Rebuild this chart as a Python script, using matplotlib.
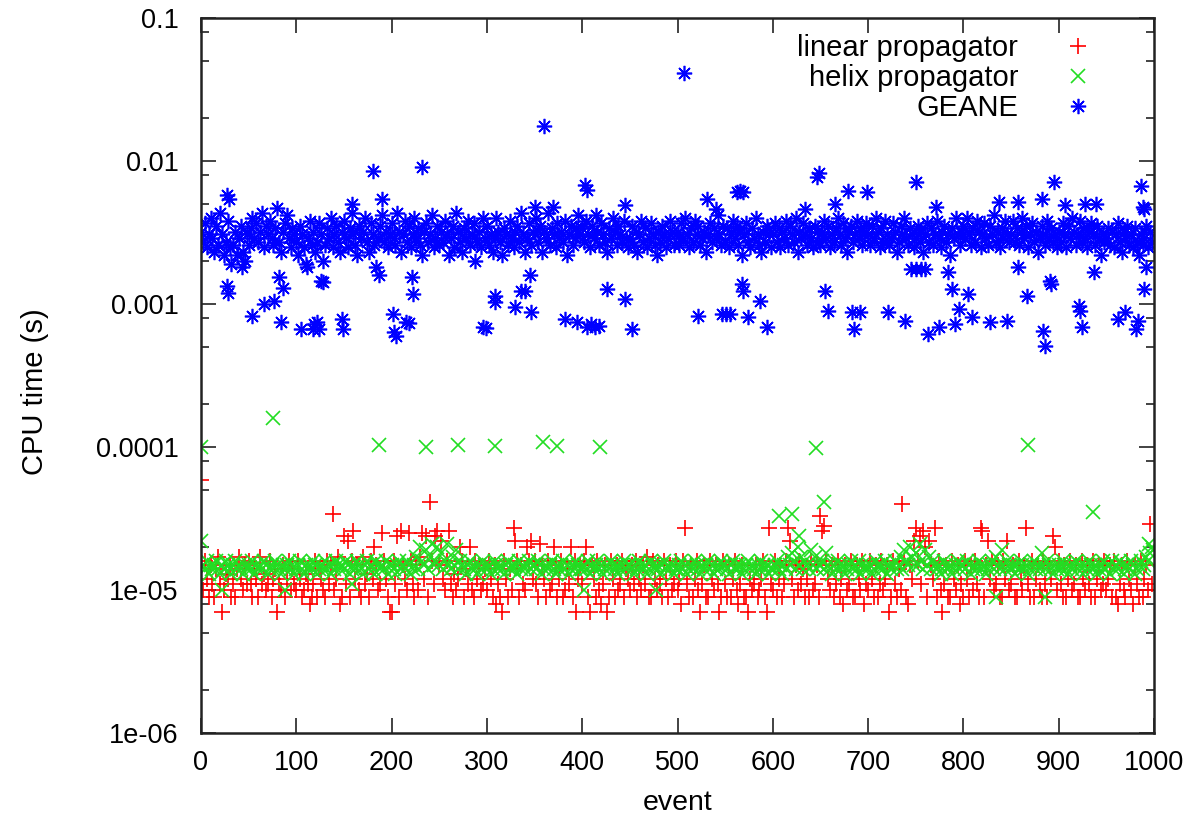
import numpy as np
import matplotlib
matplotlib.use("Agg")
import matplotlib.pyplot as plt
from matplotlib.ticker import FixedLocator, FixedFormatter, NullFormatter

plt.rcParams["font.family"] = ["Liberation Sans", "DejaVu Sans"]

# --- data -------------------------------------------------------------
# bulk of the measurements, one value every second event (0, 2, 4, ...)
# linear propagator, microseconds
linear_us = [
    11, 10, 16, 12, 9, 15, 11, 9, 14, 17, 11, 7, 10, 13, 12, 15, 9, 11, 9, 14, 17, 12, 10, 15, 11,
    16, 11, 9, 14, 12, 9, 17, 11, 13, 10, 11, 16, 9, 12, 14, 7, 11, 10, 15, 9, 12, 16, 10, 14, 11,
    10, 16, 12, 9, 10, 13, 11, 8, 9, 11, 16, 9, 14, 12, 10, 9, 16, 11, 15, 34, 10, 12, 17, 8, 9,
    24, 11, 22, 9, 16, 26, 12, 15, 10, 9, 17, 11, 13, 9, 16, 12, 20, 15, 10, 11, 25, 16, 12, 9, 7,
    7, 16, 11, 24, 9, 26, 15, 12, 10, 25, 16, 11, 9, 15, 10, 17, 25, 12, 24, 9, 41, 16, 11, 24, 26,
    15, 22, 12, 10, 16, 26, 11, 9, 13, 10, 12, 20, 16, 9, 14, 11, 20, 10, 9, 16, 12, 15, 10, 11, 14,
    10, 16, 12, 9, 15, 8, 11, 9, 7, 16, 12, 9, 14, 10, 27, 22, 16, 9, 15, 11, 10, 20, 16, 22, 12,
    16, 11, 9, 21, 15, 12, 9, 16, 10, 11, 20, 15, 9, 12, 16, 9, 10, 14, 11, 20, 9, 16, 7, 12, 15,
    11, 16, 20, 9, 7, 15, 12, 9, 16, 10, 8, 11, 15, 7, 9, 16, 12, 9, 15, 10, 11, 16, 9, 14, 12,
    10, 15, 11, 16, 9, 12, 10, 15, 11, 17, 9, 9, 16, 12, 10, 15, 11, 9, 16, 12, 9, 15, 10, 11, 16,
    10, 12, 8, 16, 27, 11, 9, 15, 9, 12, 16, 10, 7, 11, 15, 9, 9, 16, 12, 10, 15, 11, 7, 9, 16,
    11, 9, 15, 9, 12, 16, 10, 8, 11, 15, 9, 9, 7, 12, 10, 11, 15, 9, 10, 12, 16, 9, 7, 27, 11,
    10, 16, 9, 12, 15, 9, 11, 16, 27, 22, 12, 9, 15, 10, 16, 11, 14, 9, 12, 9, 16, 10, 11, 15, 9,
    33, 26, 28, 16, 12, 10, 15, 9, 11, 16, 9, 12, 8, 15, 10, 11, 16, 9, 9, 15, 12, 10, 16, 8, 11,
    10, 16, 12, 9, 15, 9, 11, 16, 10, 12, 15, 7, 9, 16, 11, 9, 14, 10, 40, 16, 9, 8, 15, 12, 22,
    27, 16, 24, 11, 26, 20, 9, 22, 15, 12, 27, 9, 16, 10, 7, 11, 15, 9, 9, 16, 12, 10, 15, 8, 11,
    9, 16, 12, 9, 15, 10, 16, 11, 9, 27, 26, 9, 15, 22, 12, 16, 10, 11, 15, 9, 9, 16, 12, 22, 10,
    11, 15, 9, 9, 16, 12, 10, 15, 27, 11, 9, 16, 9, 12, 15, 10, 9, 16, 11, 9, 15, 12, 24, 20, 10,
    16, 11, 9, 15, 9, 12, 16, 10, 11, 15, 9, 9, 16, 12, 10, 15, 11, 9, 16, 9, 12, 15, 10, 11, 16,
    10, 12, 15, 9, 16, 9, 8, 11, 15, 10, 9, 16, 12, 10, 8, 15, 11, 9, 16, 9, 12, 15, 10, 29, 11,
]
linear_extra_event = [0]
linear_extra_us = [59]

# helix propagator, microseconds
helix_us = [
    22, 15, 14, 16, 13, 15, 14, 15, 16, 14, 13, 15, 14, 16, 15, 14, 13, 15, 16, 14, 15, 14, 13, 15, 14,
    15, 14, 16, 13, 15, 14, 15, 14, 16, 15, 13, 14, 15, 14, 16, 15, 14, 13, 15, 14, 15, 16, 14, 15, 13,
    14, 15, 16, 14, 13, 15, 14, 15, 14, 16, 15, 13, 14, 15, 14, 16, 14, 15, 13, 15, 14, 16, 15, 14, 15,
    14, 16, 15, 13, 14, 15, 14, 16, 15, 14, 13, 15, 16, 14, 15, 14, 13, 16, 15, 14, 15, 14, 16, 13, 15,
    15, 14, 13, 15, 16, 14, 15, 14, 16, 15, 13, 14, 15, 17, 14, 20, 16, 15, 19, 14, 17, 21, 15, 16, 20,
    15, 18, 14, 16, 21, 15, 14, 17, 15, 19, 14, 16, 15, 14, 13, 15, 16, 14, 15, 14, 13, 15, 14, 16, 15,
    14, 15, 13, 14, 16, 15, 14, 15, 14, 13, 15, 16, 14, 15, 14, 15, 13, 16, 14, 15, 14, 15, 16, 14, 15,
    15, 14, 16, 15, 13, 14, 15, 14, 15, 16, 14, 13, 15, 14, 15, 16, 14, 15, 13, 14, 15, 14, 16, 15, 14,
    14, 15, 14, 16, 13, 15, 14, 15, 16, 14, 15, 13, 14, 15, 14, 16, 15, 14, 15, 13, 14, 15, 16, 14, 15,
    15, 14, 13, 15, 14, 16, 15, 14, 15, 13, 14, 16, 15, 14, 15, 14, 13, 15, 16, 14, 15, 14, 15, 13, 14,
    14, 15, 16, 14, 15, 13, 14, 15, 14, 16, 15, 14, 13, 15, 14, 15, 16, 14, 15, 13, 14, 15, 14, 16, 15,
    15, 14, 13, 15, 16, 14, 15, 14, 15, 13, 14, 15, 16, 14, 15, 14, 13, 15, 14, 16, 15, 14, 15, 13, 14,
    14, 15, 16, 14, 15, 13, 15, 14, 17, 15, 18, 16, 14, 20, 15, 17, 14, 16, 15, 14, 19, 15, 17, 14, 15,
    15, 16, 14, 18, 15, 14, 13, 15, 14, 16, 15, 14, 15, 13, 14, 15, 16, 14, 15, 14, 16, 13, 15, 14, 15,
    14, 15, 13, 14, 16, 15, 14, 15, 14, 16, 13, 15, 14, 15, 16, 14, 15, 17, 14, 19, 16, 15, 20, 17, 15,
    18, 15, 21, 16, 14, 19, 15, 17, 14, 16, 15, 14, 15, 13, 14, 16, 15, 14, 15, 13, 14, 15, 16, 14, 15,
    15, 14, 16, 15, 13, 14, 15, 14, 16, 15, 14, 15, 13, 14, 15, 16, 14, 17, 15, 14, 19, 15, 14, 16, 15,
    14, 15, 13, 15, 14, 16, 15, 14, 15, 13, 14, 15, 16, 14, 15, 14, 18, 15, 14, 16, 15, 14, 13, 15, 14,
    15, 14, 16, 15, 14, 13, 15, 14, 15, 16, 14, 15, 14, 13, 15, 14, 16, 15, 14, 15, 13, 14, 15, 16, 14,
    14, 15, 13, 16, 14, 15, 14, 16, 15, 13, 14, 15, 14, 16, 15, 13, 14, 15, 16, 14, 15, 17, 16, 18, 20,
]
helix_extra_event = [0, 76, 187, 236, 270, 309, 359, 374, 419, 606, 620, 627, 645, 654, 868, 936,
                     22, 88, 158, 402, 477, 834, 886, 995, 999]
helix_extra_us = [100, 160, 103, 100, 104, 101, 108, 102, 100, 33, 34, 24, 99, 41, 104, 35,
                  10, 10, 11, 10, 10, 9, 9, 21, 19]

# GEANE, units of 0.1 ms
geane_01ms = [
    32, 27, 37, 25, 31, 40, 29, 23, 35, 26, 43, 31, 22, 27, 38, 25, 19, 26, 32, 22, 29, 35, 23, 20, 31,
    26, 34, 40, 29, 37, 27, 32, 43, 25, 35, 31, 38, 29, 26, 34, 47, 27, 23, 32, 37, 42, 29, 25, 34, 31,
    27, 22, 35, 31, 25, 19, 29, 38, 26, 32, 23, 27, 37, 31, 20, 26, 34, 29, 40, 25, 31, 35, 27, 23, 32,
    38, 29, 25, 34, 43, 31, 26, 22, 35, 29, 32, 40, 27, 23, 37, 31, 26, 18, 29, 35, 42, 27, 32, 25, 31,
    37, 29, 26, 43, 32, 23, 31, 38, 27, 35, 25, 31, 40, 29, 34, 26, 22, 32, 37, 27, 31, 42, 25, 29, 35,
    26, 32, 27, 38, 31, 22, 29, 35, 25, 43, 32, 27, 23, 34, 29, 38, 26, 31, 37, 20, 27, 32, 25, 40, 29,
    35, 26, 31, 23, 29, 40, 32, 27, 22, 34, 31, 26, 38, 29, 25, 32, 35, 27, 43, 31, 23, 29, 37, 26, 32,
    31, 40, 27, 35, 23, 32, 29, 43, 26, 34, 31, 25, 37, 29, 32, 27, 38, 22, 31, 35, 26, 29, 34, 42, 31,
    34, 27, 38, 31, 25, 35, 29, 42, 32, 26, 37, 31, 27, 23, 34, 29, 40, 32, 26, 35, 31, 27, 38, 29, 25,
    29, 35, 26, 32, 23, 31, 38, 27, 34, 25, 29, 37, 31, 26, 22, 32, 27, 35, 31, 25, 29, 38, 32, 26, 31,
    32, 26, 37, 29, 40, 31, 25, 34, 27, 38, 31, 35, 26, 29, 32, 23, 31, 37, 27, 34, 29, 42, 31, 26, 35,
    27, 34, 25, 31, 38, 29, 35, 26, 32, 22, 31, 37, 27, 25, 34, 29, 40, 31, 26, 23, 32, 27, 35, 31, 25,
    31, 37, 27, 34, 25, 32, 29, 38, 26, 35, 31, 27, 40, 23, 32, 29, 37, 31, 26, 34, 29, 25, 35, 32, 27,
    26, 32, 38, 29, 35, 25, 31, 27, 34, 40, 31, 26, 37, 29, 23, 32, 35, 27, 31, 38, 29, 34, 26, 31, 37,
    31, 26, 35, 29, 40, 32, 25, 34, 27, 38, 31, 26, 29, 37, 32, 23, 27, 35, 31, 40, 29, 26, 34, 31, 25,
    29, 35, 27, 32, 23, 31, 37, 27, 34, 26, 31, 38, 29, 25, 32, 35, 27, 31, 22, 34, 29, 40, 31, 26, 32,
    35, 29, 40, 31, 26, 34, 27, 38, 32, 25, 31, 37, 29, 26, 35, 31, 42, 27, 32, 25, 34, 29, 38, 31, 27,
    31, 38, 27, 34, 26, 32, 40, 29, 35, 25, 31, 37, 27, 32, 23, 29, 35, 31, 26, 38, 29, 34, 27, 31, 25,
    32, 27, 37, 31, 25, 35, 29, 40, 32, 26, 31, 38, 27, 34, 29, 25, 32, 37, 31, 26, 35, 29, 22, 31, 27,
    29, 34, 26, 32, 25, 31, 37, 27, 23, 32, 29, 35, 26, 31, 25, 34, 27, 22, 31, 26, 29, 35, 25, 32, 27,
]
# GEANE events off the main band, ms
geane_extra_event = [
    27, 29, 158, 180, 190, 232, 350, 360, 369, 403, 405, 445, 507, 531, 540, 562, 566, 569,
    634, 646, 648, 665, 679, 699, 750, 771, 837, 857, 883, 895, 907, 928, 939, 986, 988, 990,
    27, 28, 43, 53, 66, 77, 82, 86, 84, 105, 111, 117, 119, 122, 124, 126, 128, 148, 149,
    187, 201, 203, 205, 215, 218, 221, 222, 296, 299, 308, 309, 329, 336, 340, 345, 346,
    382, 395, 405, 409, 413, 418, 426, 445, 452, 521, 547, 551, 555, 568, 569, 574, 587, 594,
    655, 658, 683, 685, 691, 721, 739, 745, 750, 755, 760, 763, 774, 784, 788, 791, 795, 805,
    809, 828, 846, 857, 867, 884, 886, 891, 892, 921, 922, 924, 937, 962, 970, 981, 983, 990, 992,
]
geane_extra_ms = [
    5.8, 5.4, 5.0, 8.5, 5.4, 9.1, 4.8, 17.5, 4.8, 6.8, 6.3, 4.9, 41.0, 5.4, 4.6, 6.1, 6.2, 6.1,
    4.6, 7.7, 8.2, 5.0, 6.2, 6.1, 7.1, 4.8, 5.2, 5.2, 5.4, 7.1, 4.9, 5.0, 5.0, 6.7, 4.8, 4.6,
    1.34, 1.2, 1.8, 0.82, 1.0, 1.05, 1.55, 1.3, 0.75, 0.67, 1.8, 0.67, 0.72, 0.75, 0.67, 1.45, 1.42, 0.78, 0.67,
    1.6, 0.85, 0.64, 0.6, 0.75, 0.74, 1.55, 1.17, 0.69, 0.68, 1.14, 1.03, 0.95, 1.23, 1.23, 1.6, 0.88,
    0.78, 0.75, 0.69, 0.72, 0.69, 0.7, 1.27, 1.08, 0.67, 0.82, 0.85, 0.85, 0.85, 1.38, 1.23, 0.81, 1.05, 0.69,
    1.23, 0.9, 0.88, 0.67, 0.88, 0.88, 0.76, 1.75, 1.75, 1.75, 1.75, 0.62, 0.69, 1.67, 1.27, 0.73, 0.92, 1.17,
    0.81, 0.75, 0.76, 1.8, 1.14, 0.65, 0.51, 1.45, 1.38, 0.97, 0.9, 0.69, 1.67, 0.78, 0.88, 0.67, 0.76, 1.27, 1.8,
]

ytick_values = [1e-6, 1e-5, 1e-4, 1e-3, 1e-2, 1e-1]
ytick_labels = ["1e-06", "1e-05", "0.0001", "0.001", "0.01", "0.1"]
xtick_values = list(range(0, 1001, 100))

# --- assemble series ----------------------------------------------------
lin_x = np.concatenate([2 * np.arange(len(linear_us)), linear_extra_event])
lin_y = np.concatenate([linear_us, linear_extra_us]) * 1e-6
hel_x = np.concatenate([2 * np.arange(len(helix_us)), helix_extra_event])
hel_y = np.concatenate([helix_us, helix_extra_us]) * 1e-6
gea_x = np.concatenate([2 * np.arange(len(geane_01ms)), geane_extra_event])
gea_y = np.concatenate([np.array(geane_01ms) * 0.1, geane_extra_ms]) * 1e-3

# --- plot ---------------------------------------------------------------
fig = plt.figure(figsize=(11.97, 8.18), dpi=100)
ax = fig.add_axes([201 / 1197, 1 - 733 / 818, 953 / 1197, 715 / 818])

ax.plot(lin_x, lin_y, ls="none", marker="+", ms=11, mew=1.2, color="#ff0000",
        label="linear propagator")
ax.plot(hel_x, hel_y, ls="none", marker="x", ms=10, mew=1.2, color="#22dd22",
        label="helix propagator")
ax.plot(gea_x, gea_y, ls="none", marker=(8, 2, 0), ms=11, mew=1.2, color="#0000ff",
        label="GEANE")

ax.set_yscale("log")
ax.set_xlim(0, 1000)
ax.set_ylim(1e-6, 0.1)

ax.yaxis.set_major_locator(FixedLocator(ytick_values))
ax.yaxis.set_major_formatter(FixedFormatter(ytick_labels))
minor = [m * d for d in ytick_values[:-1] for m in (2, 5, 8)]
ax.yaxis.set_minor_locator(FixedLocator(minor))
ax.yaxis.set_minor_formatter(NullFormatter())
ax.set_xticks(xtick_values)

ax.tick_params(which="both", direction="in", top=True, right=True, labelsize=19.5,
               width=1.2, color="#222222")
ax.tick_params(which="major", length=11)
ax.tick_params(which="minor", length=6)
ax.tick_params(axis="y", pad=16)
ax.tick_params(axis="x", pad=12)
for s in ax.spines.values():
    s.set_linewidth(1.8)
    s.set_color("#222222")

ax.set_xlabel("event", fontsize=20.5, labelpad=10)
ax.set_ylabel("CPU time (s)", fontsize=21)
ax.yaxis.set_label_coords(-0.16, 0.477)

leg = ax.legend(loc="upper right", bbox_to_anchor=(0.951, 0.978), frameon=False,
                markerfirst=False, fontsize=21, handlelength=2.0, handletextpad=1.06,
                labelspacing=0.08, borderpad=0, borderaxespad=0)

fig.savefig("out.png", dpi=100)
